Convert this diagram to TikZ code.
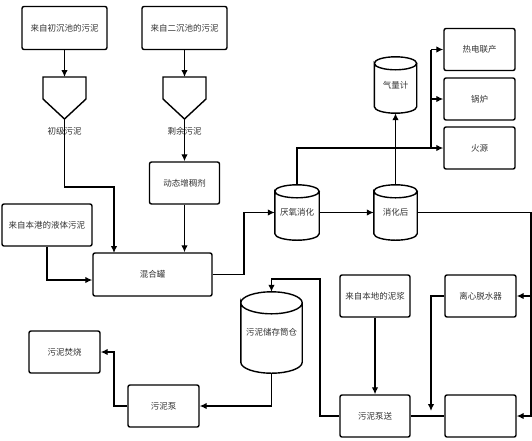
\documentclass[tikz,border=0pt]{standalone}
\usepackage{fontspec}
\setmainfont{Noto Sans CJK SC}
\usetikzlibrary{calc,arrows.meta}

\newcommand{\drawtank}[2]{%
  \draw[line width=1.4pt] let \p1=(#1.north west), \p2=(#1.south east), \n1={(\x2-\x1)/2} in
    (\x1,\y1-#2) arc[start angle=180,end angle=-180,x radius=\n1,y radius=#2]
    -- (\x1,\y2+#2) arc[start angle=180,end angle=360,x radius=\n1,y radius=#2]
    -- (\x2,\y1-#2);}

\begin{document}
\begin{tikzpicture}[x=1pt,y=1pt,font=\fontsize{8.5}{10}\selectfont]
  \tikzstyle{box}=[rectangle,draw,line width=1.4pt,rounded corners=2pt,minimum width=71pt,minimum height=42pt,inner sep=1pt,text=black!80]
  \tikzstyle{tank}=[rectangle,inner sep=0pt,text=black!80]
  \tikzstyle{flow}=[line width=1.3pt,-{Latex[length=7pt,width=6.5pt]}]
  \tikzstyle{pipe}=[line width=1.3pt]
  \useasboundingbox (0,0) rectangle (532,-440);

  \node[box,minimum width=85pt,minimum height=43pt] (src1) at (64.5,-28) {来自初沉池的污泥};
  \node[box,minimum width=85pt,minimum height=43pt] (src2) at (184.5,-28) {来自二沉池的污泥};

  \coordinate (hop1) at (64.5,-77);
  \coordinate (hop1tip) at (64.5,-119);
  \draw[line width=1.4pt] (43,-77) -- (86,-77) -- (86,-99) -- (hop1tip) -- (43,-99) -- cycle;
  \draw[flow] (src1) -- (hop1);
  \node[text=black!80] (lab1) at (64.5,-131) {初级污泥};

  \coordinate (hop2) at (184.5,-77);
  \coordinate (hop2tip) at (184.5,-119);
  \draw[line width=1.4pt] (163,-77) -- (206,-77) -- (206,-99) -- (hop2tip) -- (163,-99) -- cycle;
  \draw[flow] (src2) -- (hop2);
  \node[text=black!80] (lab2) at (184.5,-131) {剩余污泥};

  \node[box,minimum width=70pt] (thick) at (184.5,-183) {动态增稠剂};
  \draw[flow] (hop2tip) -- (thick);

  \node[box,minimum width=90pt] (liquid) at (47,-225) {来自本港的液体污泥};

  \node[box,minimum width=119pt,minimum height=43pt] (mix) at (152.5,-274.5) {混合罐};
  \draw[flow] (hop1tip) -- (64.5,-187) -| (114,-253);
  \draw[flow] (thick) -- (thick |- mix.north);
  \draw[flow] (liquid.south) |- (mix.west |- 0,-280);

  \node[tank,minimum width=44pt,minimum height=55pt] (anaer) at (297,-212.5) {厌氧消化};
  \drawtank{anaer}{6.5pt}
  \draw[flow] (mix.east) -- (244,-274.5) |- (anaer.west);

  \node[tank,minimum width=43pt,minimum height=55pt] (post) at (395.5,-212.5) {消化后};
  \drawtank{post}{6.5pt}
  \draw[flow] (anaer) -- (post);

  \node[tank,minimum width=42pt,minimum height=56pt] (gas) at (395.5,-85) {气量计};
  \drawtank{gas}{6.5pt}
  \draw[flow] (post) -- (gas);

  \node[box] (chp) at (479.5,-49.5) {热电联产};
  \node[box] (boiler) at (479.5,-99) {锅炉};
  \node[box] (flare) at (479.5,-148) {火源};
  \draw[flow] (anaer) |- (flare);
  \draw[pipe] (431,-148) -- (431,-49.5);
  \draw[flow] (431,-49.5) -- (chp);
  \draw[flow] (431,-99) -- (boiler);

  \node[box] (centri) at (480.5,-296) {离心脱水器};
  \node[box] (cake) at (480.5,-416) {};
  \draw[flow] (post.east) -- (531,-212.5) |- (cake.east);
  \draw[flow] (531,-296) -- (centri.east);

  \node[box,minimum width=70pt] (local) at (375,-296) {来自本地的泥浆};
  \node[box,minimum width=70pt] (pumping) at (375,-416) {污泥泵送};
  \draw[flow] (local) -- (pumping);
  \draw[pipe] (pumping) -- (cake);
  \draw[flow] (centri.west) -- (431,-296) -- (431,-411);

  \node[tank,minimum width=61pt,minimum height=81pt] (silo) at (271.5,-332.5) {污泥储存筒仓};
  \drawtank{silo}{11pt}
  \draw[flow] (pumping.west) -- (320,-416) |- (271.5,-279) -- (silo.north);

  \node[box] (pump) at (163.5,-406) {污泥泵};
  \draw[flow] (silo.south) |- (pump.east);

  \node[box] (burn) at (64.5,-352) {污泥焚烧};
  \draw[flow] (pump.west) -| (114,-352) -- (burn.east);
\end{tikzpicture}
\end{document}
